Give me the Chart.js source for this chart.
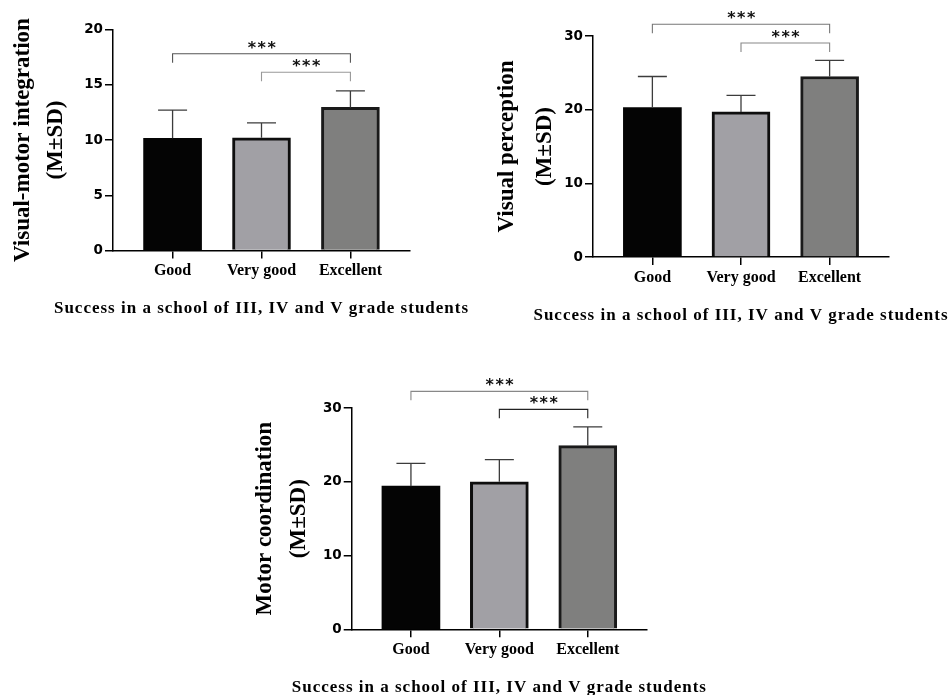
<!DOCTYPE html>
<html>
<head>
<meta charset="utf-8">
<script src="https://cdn.jsdelivr.net/npm/chart.js@4.4.1/dist/chart.umd.min.js"></script>
<style>
  html, body { margin: 0; padding: 0; background: #fff; overflow: hidden; width: 948px; height: 695px; position: relative; }
  canvas { position: absolute; }
</style>
</head>
<body>
<canvas id="vmi" width="474" height="340" style="left:0px;top:0px"></canvas>
<canvas id="vp" width="468" height="340" style="left:480px;top:0px"></canvas>
<canvas id="mc" width="500" height="340" style="left:240px;top:360px"></canvas>
<script>
// values (mean and SD per group)
const groups = ['Good', 'Very good', 'Excellent'];

const vmiMean = [10.15, 10.2, 12.95];
const vmiSd = [2.55, 1.35, 1.5];
const vmiTicks = [0, 5, 10, 15, 20];

const vpMean = [20.3, 19.7, 24.5];
const vpSd = [4.2, 2.25, 2.2];
const vpTicks = [0, 10, 20, 30];

const mcMean = [19.4, 20.0, 24.9];
const mcSd = [3.1, 3.0, 2.55];
const mcTicks = [0, 10, 20, 30];

// significance brackets: group pairs and the height (in axis units) of each bracket
const bracketPairs = [[0, 2], [1, 2]];
const vmiBracketY = [17.8, 16.13];
const vpBracketY = [31.59, 29.05];
const mcBracketY = [32.26, 29.82];
const bracketLabel = '***';

const xTitle = 'Success in a school of III, IV and V grade students';

const fills = ['#040404', '#a1a0a5', '#7f7f7e'];
const edges = ['#000000', '#0e0e0e', '#1a1a1a'];

const annotate = {
  id: 'annotate',
  afterDatasetsDraw(chart, args, o) {
    const ctx = chart.ctx, x = chart.scales.x, y = chart.scales.y;
    ctx.save();
    ctx.strokeStyle = '#3c3c3c';
    ctx.lineWidth = 1.3;
    o.mean.forEach(function(m, i) {
      const px = x.getPixelForValue(i);
      const base = y.getPixelForValue(m);
      const top = y.getPixelForValue(m + o.sd[i]);
      ctx.beginPath();
      ctx.moveTo(px, base);
      ctx.lineTo(px, top);
      ctx.moveTo(px - 14.5, top);
      ctx.lineTo(px + 14.5, top);
      ctx.stroke();
    });
    ctx.restore();
  },
  afterDraw(chart, args, o) {
    const ctx = chart.ctx, x = chart.scales.x, y = chart.scales.y;
    const area = chart.chartArea;
    ctx.save();
    bracketPairs.forEach(function(p, k) {
      const x1 = x.getPixelForValue(p[0]), x2 = x.getPixelForValue(p[1]);
      const by = y.getPixelForValue(o.brackets[k]);
      ctx.strokeStyle = o.bracketColors[k];
      ctx.lineWidth = 1.1;
      ctx.beginPath();
      ctx.moveTo(x1, by + 9);
      ctx.lineTo(x1, by);
      ctx.lineTo(x2, by);
      ctx.lineTo(x2, by + 9);
      ctx.stroke();
      ctx.fillStyle = '#111';
      ctx.font = 'bold 16px "DejaVu Sans"';
      ctx.letterSpacing = '1.5px';
      ctx.textAlign = 'center';
      ctx.textBaseline = 'alphabetic';
      ctx.fillText(bracketLabel, (x1 + x2) / 2 + 1, by - 1);
    });
    // x axis title
    ctx.letterSpacing = '1px';
    ctx.fillStyle = '#000';
    ctx.font = 'bold 17px "Liberation Serif"';
    ctx.textAlign = 'center';
    ctx.textBaseline = 'middle';
    ctx.fillText(xTitle, (area.left + area.right) / 2, area.bottom + 58.5);
    ctx.restore();
  }
};

function makeChart(id, mean, sd, yTicks, yTitle, brackets, bracketColors, box) {
  return new Chart(document.getElementById(id), {
    type: 'bar',
    data: {
      datasets: [{
        data: mean.map(function(v, i) { return {x: i, y: v}; }),
        backgroundColor: fills,
        borderColor: edges,
        borderWidth: [0, 3, 3],
        barThickness: 58
      }]
    },
    plugins: [annotate],
    options: {
      responsive: false,
      animation: false,
      events: [],
      layout: { padding: { left: 0, top: box.top, right: box.right, bottom: 0 } },
      plugins: {
        legend: { display: false },
        tooltip: { enabled: false },
        annotate: { mean: mean, sd: sd, brackets: brackets, bracketColors: bracketColors }
      },
      scales: {
        x: {
          type: 'linear',
          min: -0.67,
          max: 2.67,
          offset: false,
          afterBuildTicks: function(s) { s.ticks = groups.map(function(g, i) { return {value: i}; }); },
          afterFit: function(s) { s.height = box.xh; },
          ticks: {
            callback: function(v) { return groups[v]; },
            color: '#000',
            autoSkip: false,
            maxRotation: 0,
            padding: 3,
            font: { family: 'Liberation Serif', size: 16, weight: 'bold' }
          },
          grid: { offset: false, drawOnChartArea: false, drawTicks: true, tickLength: 8, color: '#000', lineWidth: 1.5 },
          border: { display: true, color: '#000', width: 1.5 }
        },
        y: {
          min: 0,
          max: yTicks[yTicks.length - 1],
          afterBuildTicks: function(s) { s.ticks = yTicks.map(function(v) { return {value: v}; }); },
          afterFit: function(s) { s.width = box.yw; },
          ticks: {
            color: '#000',
            padding: 2,
            font: { family: 'DejaVu Sans', size: 13.5, weight: 'bold' }
          },
          grid: { drawOnChartArea: false, drawTicks: true, tickLength: 8, color: '#000', lineWidth: 1.5 },
          border: { display: true, color: '#000', width: 1.5 },
          title: {
            display: true,
            text: [yTitle, '(M±SD)'],
            color: '#000',
            padding: { top: box.tpad, bottom: 0 },
            font: { family: 'Liberation Serif', size: 23, weight: 'bold', lineHeight: box.tlh / 23 }
          }
        }
      }
    }
  });
}

makeChart('vmi', vmiMean, vmiSd, vmiTicks, 'Visual-motor integration', vmiBracketY, ['#555', '#999'],
  { top: 29.5, right: 64, yw: 113, xh: 89.5, tpad: 6.5, tlh: 33 });
makeChart('vp', vpMean, vpSd, vpTicks, 'Visual perception', vpBracketY, ['#777', '#888'],
  { top: 36, right: 59, yw: 113, xh: 83, tpad: 8, tlh: 38 });
makeChart('mc', mcMean, mcSd, mcTicks, 'Motor coordination', mcBracketY, ['#888', '#222'],
  { top: 48, right: 93, yw: 111.7, xh: 70.7, tpad: 8, tlh: 34 });
</script>
</body>
</html>
